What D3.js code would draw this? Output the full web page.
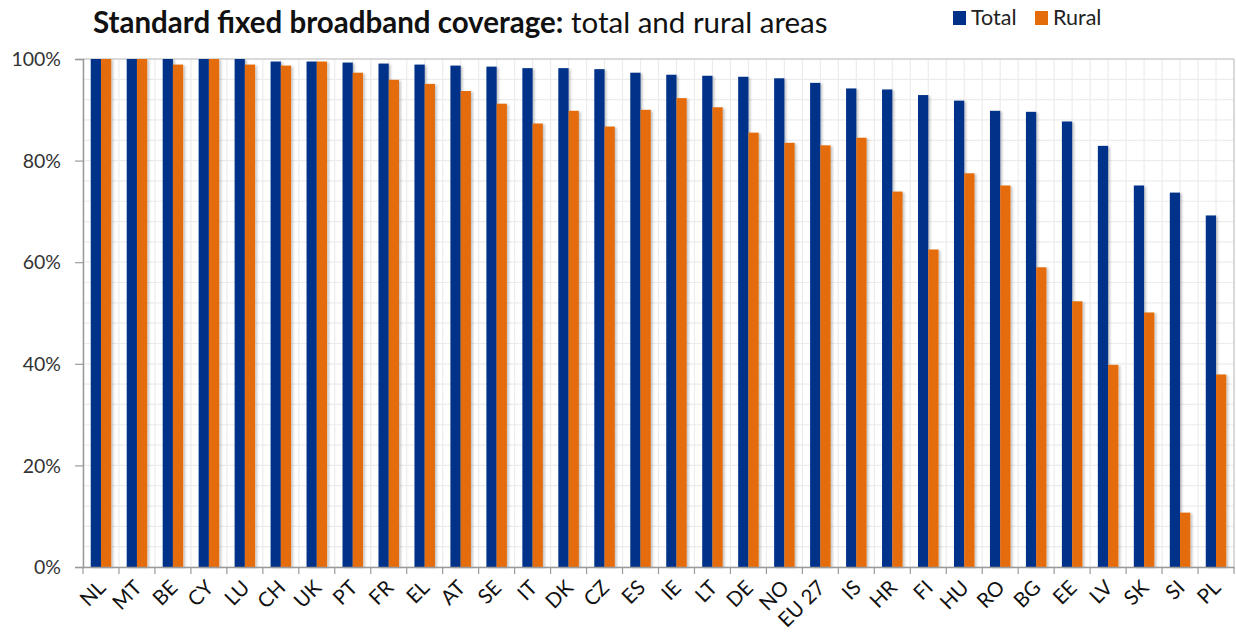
<!DOCTYPE html>
<html><head><meta charset="utf-8">
<script src="https://cdn.jsdelivr.net/npm/d3@7"></script>
<style>
body{margin:0;background:#fff;}
svg{display:block;}
</style></head>
<body>
<script>
const categories = ["NL","MT","BE","CY","LU","CH","UK","PT","FR","EL","AT","SE","IT","DK","CZ","ES","IE","LT","DE","NO","EU 27","IS","HR","FI","HU","RO","BG","EE","LV","SK","SI","PL"];
const totalValues = [100,100,100,100,100,99.5,99.5,99.3,99.1,98.9,98.7,98.5,98.2,98.2,98.0,97.3,96.9,96.7,96.5,96.2,95.3,94.2,94.0,92.9,91.8,89.8,89.6,87.7,82.9,75.1,73.7,69.2];
const ruralValues = [100,100,98.9,100,98.9,98.7,99.5,97.3,95.9,95.1,93.7,91.2,87.3,89.8,86.7,90.0,92.3,90.5,85.5,83.5,83.0,84.5,73.9,62.5,77.5,75.1,59.0,52.3,39.8,50.1,10.7,37.9];
const seriesNames = ["Total","Rural"];
const yTicks = [0,20,40,60,80,100];

const W = 1236, H = 641;
const m = {left:83, right:2, top:59, bottom:74};
const colors = {"Total":"#003189","Rural":"#e46c0a"};
const font = "Lato, 'Open Sans', sans-serif";

const svg = d3.select("body").append("svg").attr("width",W).attr("height",H);
const defs = svg.append("defs");
const f = defs.append("filter").attr("id","sh").attr("x","-30%").attr("y","-5%").attr("width","180%").attr("height","120%");
f.append("feDropShadow").attr("dx",2).attr("dy",1).attr("stdDeviation",1.2).attr("flood-color","#000").attr("flood-opacity",0.22);

const x0 = d3.scaleBand().domain(categories).range([m.left, W-m.right]).paddingInner(0.43).paddingOuter(0.215);
const x1 = d3.scaleBand().domain(seriesNames).range([0, x0.bandwidth()]);
const y = d3.scaleLinear().domain([0,100]).range([H-m.bottom, m.top]);
const step = x0.step();
const plotL = m.left, plotR = W-m.right, plotT = m.top, plotB = H-m.bottom;

// gridlines
const g = svg.append("g");
const hGrid = d3.range(0,101,4);
g.selectAll("line.h").data(hGrid).join("line")
  .attr("x1",plotL).attr("x2",plotR).attr("y1",d=>y(d)).attr("y2",d=>y(d))
  .attr("stroke","#ececec").attr("stroke-width",1.2);
const vGrid = d3.range(0, categories.length*2+1).map(i=>plotL + i*step/2);
g.selectAll("line.v").data(vGrid).join("line")
  .attr("x1",d=>d).attr("x2",d=>d).attr("y1",plotT).attr("y2",plotB)
  .attr("stroke","#ececec").attr("stroke-width",1.2);
// frame top/right
svg.append("line").attr("x1",plotL).attr("x2",plotR).attr("y1",plotT).attr("y2",plotT).attr("stroke","#d0d0d0").attr("stroke-width",1.5);
svg.append("line").attr("x1",plotR).attr("x2",plotR).attr("y1",plotT).attr("y2",plotB).attr("stroke","#d0d0d0").attr("stroke-width",1.5);

// bars
const data = categories.map((c,i)=>({c, vals:[{k:"Total",v:totalValues[i]},{k:"Rural",v:ruralValues[i]}]}));
const grp = svg.append("g").selectAll("g").data(data).join("g").attr("transform",d=>`translate(${x0(d.c)},0)`);
grp.selectAll("rect").data(d=>d.vals).join("rect")
  .attr("x",d=>x1(d.k)).attr("width",x1.bandwidth())
  .attr("y",d=>y(d.v)).attr("height",d=>y(0)-y(d.v))
  .attr("fill",d=>colors[d.k]).attr("filter","url(#sh)");

// y axis
const yAxis = d3.axisLeft(y).tickValues(yTicks).tickFormat(d=>d+"%").tickSize(8).tickPadding(6);
const ya = svg.append("g").attr("transform",`translate(${plotL},0)`).call(yAxis);
ya.select(".domain").attr("stroke","#9a9a9a").attr("stroke-width",1.5);
ya.selectAll(".tick line").attr("stroke","#9a9a9a").attr("stroke-width",1.2);
ya.selectAll("text").attr("font-family",font).attr("font-size",19.5).attr("fill","#333").attr("dy","0.34em").attr("x",-22);

// x axis
const xAxis = d3.axisBottom(x0).tickSize(0).tickPadding(0);
const xa = svg.append("g").attr("transform",`translate(0,${plotB})`).call(xAxis);
xa.select(".domain").attr("stroke","#9a9a9a").attr("stroke-width",1.5);
xa.selectAll(".tick text").attr("font-family",font).attr("font-size",20.5).attr("fill","#111")
  .attr("text-anchor","end").attr("dy",0).attr("y",0)
  .attr("transform","translate(6,22) rotate(-45)");
// boundary ticks
xa.selectAll("line.bt").data(d3.range(0,categories.length+1)).join("line")
  .attr("x1",i=>plotL+i*step).attr("x2",i=>plotL+i*step).attr("y1",0).attr("y2",7)
  .attr("stroke","#9a9a9a").attr("stroke-width",1.2);

// title
const t = svg.append("text").attr("x",93).attr("y",33).attr("font-family",font).attr("font-size",29.5).attr("fill","#111");
t.append("tspan").attr("font-weight","bold").text("Standard fixed broadband coverage:");
t.append("tspan").attr("font-weight","normal").text(" total and rural areas");

// legend
const legX = [953, 1035];
const lg = svg.append("g").selectAll("g").data(seriesNames).join("g").attr("transform",(d,i)=>`translate(${legX[i]},0)`);
lg.append("rect").attr("x",0).attr("y",11).attr("width",13).attr("height",14).attr("fill",d=>colors[d]);
lg.append("text").attr("x",18).attr("y",25).attr("font-family",font).attr("font-size",21.5).attr("fill","#222").text(d=>d);
</script>
</body></html>
